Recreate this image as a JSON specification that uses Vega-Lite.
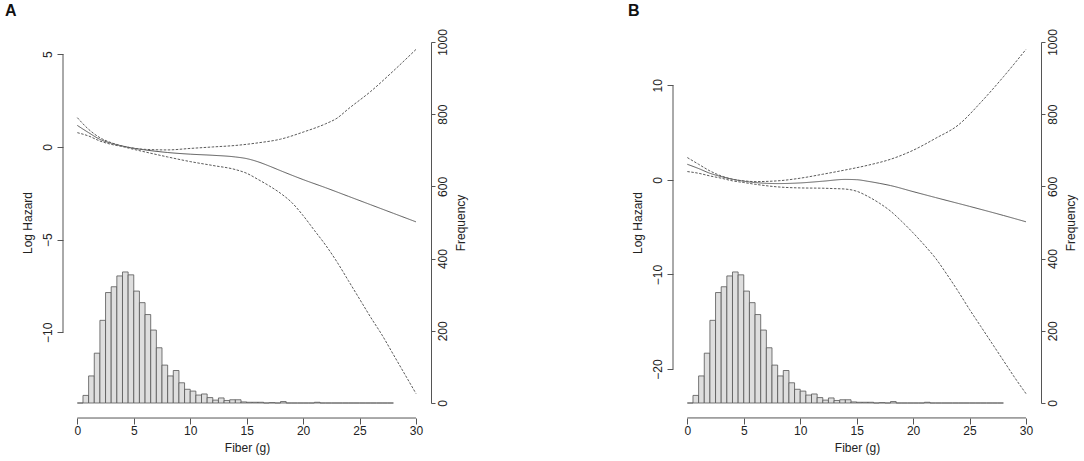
{
  "$schema": "https://vega.github.io/schema/vega-lite/v6.json",
  "padding": {"left": 5, "top": 2, "right": 5, "bottom": 5},
  "background": "white",
  "config": {
    "view": {"stroke": null},
    "font": "Liberation Sans",
    "axis": {
      "grid": false,
      "labelFont": "Liberation Sans",
      "titleFont": "Liberation Sans",
      "labelFontSize": 12,
      "titleFontSize": 12,
      "titleFontWeight": "normal",
      "labelColor": "#222",
      "titleColor": "#222",
      "tickColor": "#555",
      "domainColor": "#555"
    },
    "title": {"font": "Liberation Sans", "fontSize": 16, "fontWeight": "bold", "color": "#111"}
  },
  "datasets": {
    "hist": [
      {"lo": 0, "hi": 0.5, "count": 0},
      {"lo": 0.5, "hi": 1, "count": 21},
      {"lo": 1, "hi": 1.5, "count": 75},
      {"lo": 1.5, "hi": 2, "count": 138},
      {"lo": 2, "hi": 2.5, "count": 229},
      {"lo": 2.5, "hi": 3, "count": 306},
      {"lo": 3, "hi": 3.5, "count": 322},
      {"lo": 3.5, "hi": 4, "count": 352},
      {"lo": 4, "hi": 4.5, "count": 363},
      {"lo": 4.5, "hi": 5, "count": 355},
      {"lo": 5, "hi": 5.5, "count": 310},
      {"lo": 5.5, "hi": 6, "count": 278},
      {"lo": 6, "hi": 6.5, "count": 245},
      {"lo": 6.5, "hi": 7, "count": 202},
      {"lo": 7, "hi": 7.5, "count": 153},
      {"lo": 7.5, "hi": 8, "count": 105},
      {"lo": 8, "hi": 8.5, "count": 75},
      {"lo": 8.5, "hi": 9, "count": 90},
      {"lo": 9, "hi": 9.5, "count": 56},
      {"lo": 9.5, "hi": 10, "count": 38},
      {"lo": 10, "hi": 10.5, "count": 33},
      {"lo": 10.5, "hi": 11, "count": 22},
      {"lo": 11, "hi": 11.5, "count": 25},
      {"lo": 11.5, "hi": 12, "count": 15},
      {"lo": 12, "hi": 12.5, "count": 8},
      {"lo": 12.5, "hi": 13, "count": 14},
      {"lo": 13, "hi": 13.5, "count": 7},
      {"lo": 13.5, "hi": 14, "count": 9},
      {"lo": 14, "hi": 14.5, "count": 9},
      {"lo": 14.5, "hi": 15, "count": 3},
      {"lo": 15, "hi": 15.5, "count": 2},
      {"lo": 15.5, "hi": 16, "count": 2},
      {"lo": 16, "hi": 16.5, "count": 2},
      {"lo": 16.5, "hi": 17, "count": 0},
      {"lo": 17, "hi": 17.5, "count": 1},
      {"lo": 17.5, "hi": 18, "count": 0},
      {"lo": 18, "hi": 18.5, "count": 4},
      {"lo": 18.5, "hi": 19, "count": 0},
      {"lo": 19, "hi": 19.5, "count": 0},
      {"lo": 19.5, "hi": 20, "count": 0},
      {"lo": 20, "hi": 20.5, "count": 0},
      {"lo": 20.5, "hi": 21, "count": 0},
      {"lo": 21, "hi": 21.5, "count": 2},
      {"lo": 21.5, "hi": 22, "count": 0},
      {"lo": 22, "hi": 22.5, "count": 0},
      {"lo": 22.5, "hi": 23, "count": 0},
      {"lo": 23, "hi": 23.5, "count": 0},
      {"lo": 23.5, "hi": 24, "count": 0},
      {"lo": 24, "hi": 24.5, "count": 0},
      {"lo": 24.5, "hi": 25, "count": 0},
      {"lo": 25, "hi": 25.5, "count": 0},
      {"lo": 25.5, "hi": 26, "count": 0},
      {"lo": 26, "hi": 26.5, "count": 0},
      {"lo": 26.5, "hi": 27, "count": 0},
      {"lo": 27, "hi": 27.5, "count": 0},
      {"lo": 27.5, "hi": 28, "count": 0}
    ],
    "curves": [
      {"panel": "A", "series": "estimate", "fiber": 0, "logHazard": 1.16},
      {"panel": "A", "series": "estimate", "fiber": 1, "logHazard": 0.77},
      {"panel": "A", "series": "estimate", "fiber": 2, "logHazard": 0.41},
      {"panel": "A", "series": "estimate", "fiber": 3, "logHazard": 0.2},
      {"panel": "A", "series": "estimate", "fiber": 4, "logHazard": 0.05},
      {"panel": "A", "series": "estimate", "fiber": 5, "logHazard": -0.07},
      {"panel": "A", "series": "estimate", "fiber": 6, "logHazard": -0.16},
      {"panel": "A", "series": "estimate", "fiber": 8, "logHazard": -0.3},
      {"panel": "A", "series": "estimate", "fiber": 10, "logHazard": -0.39},
      {"panel": "A", "series": "estimate", "fiber": 12, "logHazard": -0.45},
      {"panel": "A", "series": "estimate", "fiber": 14, "logHazard": -0.54},
      {"panel": "A", "series": "estimate", "fiber": 15, "logHazard": -0.63},
      {"panel": "A", "series": "estimate", "fiber": 16, "logHazard": -0.8},
      {"panel": "A", "series": "estimate", "fiber": 17, "logHazard": -1.03},
      {"panel": "A", "series": "estimate", "fiber": 18, "logHazard": -1.28},
      {"panel": "A", "series": "estimate", "fiber": 20, "logHazard": -1.76},
      {"panel": "A", "series": "estimate", "fiber": 22, "logHazard": -2.2},
      {"panel": "A", "series": "estimate", "fiber": 24, "logHazard": -2.66},
      {"panel": "A", "series": "estimate", "fiber": 26, "logHazard": -3.12},
      {"panel": "A", "series": "estimate", "fiber": 28, "logHazard": -3.58},
      {"panel": "A", "series": "estimate", "fiber": 30, "logHazard": -4.04},
      {"panel": "A", "series": "upper", "fiber": 0, "logHazard": 1.58},
      {"panel": "A", "series": "upper", "fiber": 1, "logHazard": 0.95},
      {"panel": "A", "series": "upper", "fiber": 2, "logHazard": 0.5},
      {"panel": "A", "series": "upper", "fiber": 3, "logHazard": 0.23},
      {"panel": "A", "series": "upper", "fiber": 4, "logHazard": 0.05},
      {"panel": "A", "series": "upper", "fiber": 5, "logHazard": -0.07},
      {"panel": "A", "series": "upper", "fiber": 6, "logHazard": -0.13},
      {"panel": "A", "series": "upper", "fiber": 8, "logHazard": -0.16},
      {"panel": "A", "series": "upper", "fiber": 10, "logHazard": -0.08},
      {"panel": "A", "series": "upper", "fiber": 12, "logHazard": 0.0},
      {"panel": "A", "series": "upper", "fiber": 14, "logHazard": 0.08},
      {"panel": "A", "series": "upper", "fiber": 16, "logHazard": 0.22},
      {"panel": "A", "series": "upper", "fiber": 18, "logHazard": 0.42},
      {"panel": "A", "series": "upper", "fiber": 20, "logHazard": 0.8},
      {"panel": "A", "series": "upper", "fiber": 22, "logHazard": 1.25},
      {"panel": "A", "series": "upper", "fiber": 23, "logHazard": 1.55},
      {"panel": "A", "series": "upper", "fiber": 24, "logHazard": 2.05},
      {"panel": "A", "series": "upper", "fiber": 26, "logHazard": 3.0},
      {"panel": "A", "series": "upper", "fiber": 28, "logHazard": 4.1},
      {"panel": "A", "series": "upper", "fiber": 30, "logHazard": 5.26},
      {"panel": "A", "series": "lower", "fiber": 0, "logHazard": 0.77},
      {"panel": "A", "series": "lower", "fiber": 1, "logHazard": 0.59},
      {"panel": "A", "series": "lower", "fiber": 2, "logHazard": 0.32},
      {"panel": "A", "series": "lower", "fiber": 3, "logHazard": 0.14},
      {"panel": "A", "series": "lower", "fiber": 4, "logHazard": 0.02},
      {"panel": "A", "series": "lower", "fiber": 5, "logHazard": -0.13},
      {"panel": "A", "series": "lower", "fiber": 6, "logHazard": -0.27},
      {"panel": "A", "series": "lower", "fiber": 8, "logHazard": -0.54},
      {"panel": "A", "series": "lower", "fiber": 10, "logHazard": -0.79},
      {"panel": "A", "series": "lower", "fiber": 12, "logHazard": -1.0},
      {"panel": "A", "series": "lower", "fiber": 14, "logHazard": -1.22},
      {"panel": "A", "series": "lower", "fiber": 15, "logHazard": -1.42},
      {"panel": "A", "series": "lower", "fiber": 16, "logHazard": -1.75},
      {"panel": "A", "series": "lower", "fiber": 17, "logHazard": -2.1},
      {"panel": "A", "series": "lower", "fiber": 18, "logHazard": -2.5},
      {"panel": "A", "series": "lower", "fiber": 19, "logHazard": -3.0},
      {"panel": "A", "series": "lower", "fiber": 20, "logHazard": -3.7},
      {"panel": "A", "series": "lower", "fiber": 21, "logHazard": -4.5},
      {"panel": "A", "series": "lower", "fiber": 22, "logHazard": -5.3},
      {"panel": "A", "series": "lower", "fiber": 23, "logHazard": -6.2},
      {"panel": "A", "series": "lower", "fiber": 24, "logHazard": -7.2},
      {"panel": "A", "series": "lower", "fiber": 25, "logHazard": -8.2},
      {"panel": "A", "series": "lower", "fiber": 26, "logHazard": -9.2},
      {"panel": "A", "series": "lower", "fiber": 27, "logHazard": -10.15},
      {"panel": "A", "series": "lower", "fiber": 28, "logHazard": -11.2},
      {"panel": "A", "series": "lower", "fiber": 29, "logHazard": -12.25},
      {"panel": "A", "series": "lower", "fiber": 30, "logHazard": -13.3},
      {"panel": "B", "series": "estimate", "fiber": 0, "logHazard": 1.65},
      {"panel": "B", "series": "estimate", "fiber": 1, "logHazard": 1.2},
      {"panel": "B", "series": "estimate", "fiber": 2, "logHazard": 0.7},
      {"panel": "B", "series": "estimate", "fiber": 3, "logHazard": 0.35},
      {"panel": "B", "series": "estimate", "fiber": 4, "logHazard": 0.07},
      {"panel": "B", "series": "estimate", "fiber": 5, "logHazard": -0.14},
      {"panel": "B", "series": "estimate", "fiber": 6, "logHazard": -0.28},
      {"panel": "B", "series": "estimate", "fiber": 8, "logHazard": -0.39},
      {"panel": "B", "series": "estimate", "fiber": 10, "logHazard": -0.32},
      {"panel": "B", "series": "estimate", "fiber": 12, "logHazard": -0.14},
      {"panel": "B", "series": "estimate", "fiber": 14, "logHazard": 0.05},
      {"panel": "B", "series": "estimate", "fiber": 15, "logHazard": 0.02},
      {"panel": "B", "series": "estimate", "fiber": 16, "logHazard": -0.15},
      {"panel": "B", "series": "estimate", "fiber": 17, "logHazard": -0.36},
      {"panel": "B", "series": "estimate", "fiber": 18, "logHazard": -0.6},
      {"panel": "B", "series": "estimate", "fiber": 20, "logHazard": -1.24},
      {"panel": "B", "series": "estimate", "fiber": 22, "logHazard": -1.87},
      {"panel": "B", "series": "estimate", "fiber": 25, "logHazard": -2.8},
      {"panel": "B", "series": "estimate", "fiber": 28, "logHazard": -3.76},
      {"panel": "B", "series": "estimate", "fiber": 30, "logHazard": -4.43},
      {"panel": "B", "series": "upper", "fiber": 0, "logHazard": 2.36},
      {"panel": "B", "series": "upper", "fiber": 1, "logHazard": 1.65},
      {"panel": "B", "series": "upper", "fiber": 2, "logHazard": 0.95},
      {"panel": "B", "series": "upper", "fiber": 3, "logHazard": 0.42},
      {"panel": "B", "series": "upper", "fiber": 4, "logHazard": 0.07},
      {"panel": "B", "series": "upper", "fiber": 5, "logHazard": -0.1},
      {"panel": "B", "series": "upper", "fiber": 6, "logHazard": -0.18},
      {"panel": "B", "series": "upper", "fiber": 8, "logHazard": -0.1},
      {"panel": "B", "series": "upper", "fiber": 10, "logHazard": 0.18},
      {"panel": "B", "series": "upper", "fiber": 12, "logHazard": 0.6},
      {"panel": "B", "series": "upper", "fiber": 14, "logHazard": 1.05},
      {"panel": "B", "series": "upper", "fiber": 16, "logHazard": 1.55},
      {"panel": "B", "series": "upper", "fiber": 18, "logHazard": 2.18},
      {"panel": "B", "series": "upper", "fiber": 20, "logHazard": 3.13},
      {"panel": "B", "series": "upper", "fiber": 22, "logHazard": 4.4},
      {"panel": "B", "series": "upper", "fiber": 24, "logHazard": 5.8},
      {"panel": "B", "series": "upper", "fiber": 26, "logHazard": 8.2},
      {"panel": "B", "series": "upper", "fiber": 28, "logHazard": 10.9},
      {"panel": "B", "series": "upper", "fiber": 30, "logHazard": 13.8},
      {"panel": "B", "series": "lower", "fiber": 0, "logHazard": 0.88},
      {"panel": "B", "series": "lower", "fiber": 1, "logHazard": 0.7},
      {"panel": "B", "series": "lower", "fiber": 2, "logHazard": 0.42},
      {"panel": "B", "series": "lower", "fiber": 3, "logHazard": 0.18},
      {"panel": "B", "series": "lower", "fiber": 4, "logHazard": -0.1},
      {"panel": "B", "series": "lower", "fiber": 5, "logHazard": -0.28},
      {"panel": "B", "series": "lower", "fiber": 6, "logHazard": -0.46},
      {"panel": "B", "series": "lower", "fiber": 8, "logHazard": -0.74},
      {"panel": "B", "series": "lower", "fiber": 10, "logHazard": -0.85},
      {"panel": "B", "series": "lower", "fiber": 12, "logHazard": -0.88},
      {"panel": "B", "series": "lower", "fiber": 13, "logHazard": -0.92},
      {"panel": "B", "series": "lower", "fiber": 14, "logHazard": -0.97},
      {"panel": "B", "series": "lower", "fiber": 15, "logHazard": -1.2},
      {"panel": "B", "series": "lower", "fiber": 16, "logHazard": -1.75},
      {"panel": "B", "series": "lower", "fiber": 17, "logHazard": -2.45},
      {"panel": "B", "series": "lower", "fiber": 18, "logHazard": -3.3},
      {"panel": "B", "series": "lower", "fiber": 19, "logHazard": -4.4},
      {"panel": "B", "series": "lower", "fiber": 20, "logHazard": -5.6},
      {"panel": "B", "series": "lower", "fiber": 21, "logHazard": -6.9},
      {"panel": "B", "series": "lower", "fiber": 22, "logHazard": -8.3},
      {"panel": "B", "series": "lower", "fiber": 23, "logHazard": -10.0},
      {"panel": "B", "series": "lower", "fiber": 24, "logHazard": -11.8},
      {"panel": "B", "series": "lower", "fiber": 25, "logHazard": -13.7},
      {"panel": "B", "series": "lower", "fiber": 26, "logHazard": -15.5},
      {"panel": "B", "series": "lower", "fiber": 27, "logHazard": -17.3},
      {"panel": "B", "series": "lower", "fiber": 28, "logHazard": -19.1},
      {"panel": "B", "series": "lower", "fiber": 29, "logHazard": -20.9},
      {"panel": "B", "series": "lower", "fiber": 30, "logHazard": -22.6}
    ]
  },
  "bounds": "flush",
  "spacing": 242,
  "hconcat": [
    {
      "width": 368,
      "height": 361,
      "title": {"text": "A", "anchor": "start", "frame": "group", "dx": -58, "offset": 10},
      "layer": [
        {
          "data": {"name": "hist"},
          "mark": {"type": "rect", "fill": "#dedede", "stroke": "#555", "strokeWidth": 0.8},
          "encoding": {
            "x": {"field": "lo", "type": "quantitative", "title": "Fiber (g)"},
            "x2": {"field": "hi"},
            "y": {
              "field": "count", "type": "quantitative", "title": "Frequency",
              "scale": {"domain": [0, 1000], "nice": false, "zero": true},
              "axis": {"orient": "right", "values": [0, 200, 400, 600, 800, 1000], "format": "d", "labelAngle": -90, "labelAlign": "center", "labelBaseline": "top", "tickSize": 4, "labelPadding": 2, "titleAngle": -90, "titleBaseline": "top", "titlePadding": 7}
            },
            "y2": {"datum": 0}
          }
        },
        {
          "layer": [
            {
              "data": {"name": "curves"},
              "transform": [{"filter": "datum.panel === 'A'"}],
              "mark": {"type": "line", "interpolate": "monotone", "strokeWidth": 1, "color": "#5a5a5a"},
              "encoding": {
                "x": {
                  "field": "fiber", "type": "quantitative", "title": "Fiber (g)",
                  "scale": {"domain": [-1.27, 31.33], "nice": false, "zero": false},
                  "axis": {"values": [0, 5, 10, 15, 20, 25, 30], "domain": false, "offset": 15, "tickSize": 6, "labelPadding": 1, "titlePadding": 6}
                },
                "y": {
                  "field": "logHazard", "type": "quantitative", "title": "Log Hazard",
                  "scale": {"domain": [-13.81, 5.66], "nice": false, "zero": false},
                  "axis": {"orient": "left", "values": [-10, -5, 0, 5], "domain": false, "labelAngle": -90, "labelAlign": "center", "labelBaseline": "bottom", "tickSize": 6, "labelPadding": 3, "titlePadding": 7}
                },
                "detail": {"field": "series"},
                "strokeDash": {"field": "series", "type": "nominal", "scale": {"domain": ["estimate", "upper", "lower"], "range": [[1, 0], [2.5, 1.5], [2.5, 1.5]]}, "legend": null}
              }
            },
            {
              "data": {"values": [{}]},
              "mark": {"type": "rule", "color": "#555", "strokeWidth": 1},
              "encoding": {"x": {"datum": -1.27, "type": "quantitative"}, "y": {"datum": -10, "type": "quantitative"}, "y2": {"datum": 5}}
            },
            {
              "data": {"values": [{}]},
              "mark": {"type": "rule", "color": "#555", "strokeWidth": 1},
              "encoding": {"x": {"datum": 0, "type": "quantitative"}, "x2": {"datum": 30}, "y": {"datum": -14.62, "type": "quantitative"}}
            }
          ]
        }
      ],
      "resolve": {"scale": {"y": "independent"}}
    },
    {
      "width": 368,
      "height": 361,
      "title": {"text": "B", "anchor": "start", "frame": "group", "dx": -45, "offset": 10},
      "layer": [
        {
          "data": {"name": "hist"},
          "mark": {"type": "rect", "fill": "#dedede", "stroke": "#555", "strokeWidth": 0.8},
          "encoding": {
            "x": {"field": "lo", "type": "quantitative", "title": "Fiber (g)"},
            "x2": {"field": "hi"},
            "y": {
              "field": "count", "type": "quantitative", "title": "Frequency",
              "scale": {"domain": [0, 1000], "nice": false, "zero": true},
              "axis": {"orient": "right", "values": [0, 200, 400, 600, 800, 1000], "format": "d", "labelAngle": -90, "labelAlign": "center", "labelBaseline": "top", "tickSize": 4, "labelPadding": 2, "titleAngle": -90, "titleBaseline": "top", "titlePadding": 7}
            },
            "y2": {"datum": 0}
          }
        },
        {
          "layer": [
            {
              "data": {"name": "curves"},
              "transform": [{"filter": "datum.panel === 'B'"}],
              "mark": {"type": "line", "interpolate": "monotone", "strokeWidth": 1, "color": "#5a5a5a"},
              "encoding": {
                "x": {
                  "field": "fiber", "type": "quantitative", "title": "Fiber (g)",
                  "scale": {"domain": [-1.27, 31.33], "nice": false, "zero": false},
                  "axis": {"values": [0, 5, 10, 15, 20, 25, 30], "domain": false, "offset": 15, "tickSize": 6, "labelPadding": 1, "titlePadding": 6}
                },
                "y": {
                  "field": "logHazard", "type": "quantitative", "title": "Log Hazard",
                  "scale": {"domain": [-23.59, 14.58], "nice": false, "zero": false},
                  "axis": {"orient": "left", "values": [-20, -10, 0, 10], "domain": false, "labelAngle": -90, "labelAlign": "center", "labelBaseline": "bottom", "tickSize": 6, "labelPadding": 3, "titlePadding": 7}
                },
                "detail": {"field": "series"},
                "strokeDash": {"field": "series", "type": "nominal", "scale": {"domain": ["estimate", "upper", "lower"], "range": [[1, 0], [2.5, 1.5], [2.5, 1.5]]}, "legend": null}
              }
            },
            {
              "data": {"values": [{}]},
              "mark": {"type": "rule", "color": "#555", "strokeWidth": 1},
              "encoding": {"x": {"datum": -1.27, "type": "quantitative"}, "y": {"datum": -20, "type": "quantitative"}, "y2": {"datum": 10}}
            },
            {
              "data": {"values": [{}]},
              "mark": {"type": "rule", "color": "#555", "strokeWidth": 1},
              "encoding": {"x": {"datum": 0, "type": "quantitative"}, "x2": {"datum": 30}, "y": {"datum": -25.17, "type": "quantitative"}}
            }
          ]
        }
      ],
      "resolve": {"scale": {"y": "independent"}}
    }
  ]
}
